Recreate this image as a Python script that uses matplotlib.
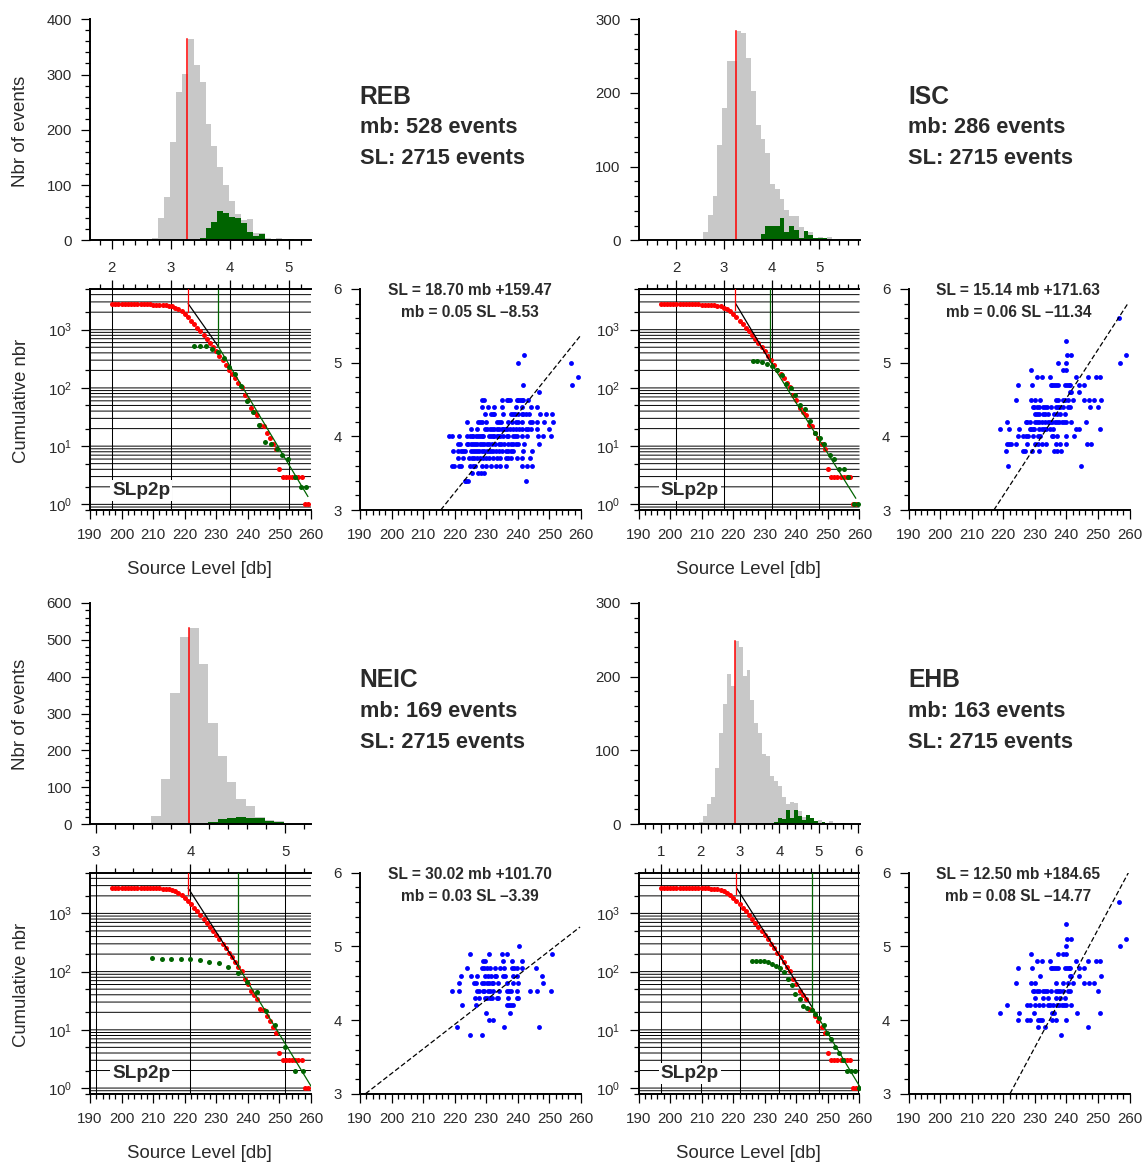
import matplotlib
matplotlib.use('Agg')
import matplotlib.pyplot as plt
from matplotlib.ticker import MultipleLocator, FixedLocator, NullFormatter

plt.rcParams['font.family'] = ['Liberation Sans', 'DejaVu Sans']
plt.rcParams['mathtext.default'] = 'regular'

W, H = 1143, 1162

names = ['REB', 'ISC', 'NEIC', 'EHB']
mb_events = [528, 286, 169, 163]
sl_events = 2715
slope_sl = [18.70, 15.14, 30.02, 12.50]
icept_sl = [159.47, 171.63, 101.70, 184.65]
slope_mb = ['0.05', '0.06', '0.03', '0.08']
icept_mb = ['8.53', '11.34', '3.39', '14.77']
hist_ymax = [400, 300, 600, 300]

# histogrammes mb, pas de 0.1
hist_start = [2.69, 2.566, 3.587, 1.966]
reb_gray = [5, 40, 78, 178, 268, 301, 364, 317, 287, 210, 170, 132, 100, 72, 48, 36, 38, 14, 14, 5, 3, 5, 2, 2, 1, 1]
reb_green = [0, 0, 0, 0, 0, 0, 0, 1, 4, 22, 33, 53, 49, 42, 40, 31, 15, 7, 11, 0, 2, 0, 0, 2, 0, 0]
isc_gray = [11, 34, 60, 129, 180, 243, 244, 284, 281, 247, 202, 156, 137, 118, 76, 69, 56, 41, 33, 33, 18, 11, 11, 3, 5, 3, 5, 1, 1, 1, 1, 1]
isc_green = [0, 0, 0, 0, 0, 0, 0, 0, 0, 0, 1, 0, 8, 19, 20, 19, 30, 11, 20, 14, 3, 12, 7, 3, 3, 3, 0, 0, 0, 0, 1, 0]
neic_gray = [22, 122, 355, 507, 531, 434, 274, 185, 114, 68, 50, 20, 11, 8]
neic_green = [0, 0, 0, 2, 0, 1, 6, 14, 17, 20, 17, 17, 8, 6]
ehb_gray = [3, 11, 27, 36, 76, 124, 163, 203, 187, 248, 240, 201, 209, 168, 137, 124, 95, 92, 65, 59, 52, 36, 27, 30, 29, 18, 10, 6, 4, 3, 6, 3, 2, 4, 1, 0, 1]
ehb_green = [0, 0, 0, 0, 0, 0, 0, 0, 0, 0, 0, 0, 0, 0, 0, 0, 0, 0, 0, 3, 8, 7, 19, 8, 19, 11, 6, 12, 8, 4, 1, 3, 0, 0, 0, 0, 1]
gray_counts = [reb_gray, isc_gray, neic_gray, ehb_gray]
green_counts = [reb_green, isc_green, neic_green, ehb_green]
mean_mb = [3.28, 3.26, 3.99, 2.88]
mean_top = [364, 284, 531, 249]

# courbe cumulee SL (la meme pour les 4 catalogues)
red_sl = list(range(197, 260))
red_n = [2715, 2715, 2715, 2715, 2715, 2715, 2715, 2715, 2715, 2715, 2715, 2715,
         2710, 2705, 2700, 2690, 2670, 2630, 2580, 2512, 2382, 2260, 2089, 1857,
         1626, 1427, 1234, 1082, 948, 810, 692, 591, 498, 425, 358, 302, 251, 206,
         176, 147, 122, 103, 75, 61, 46, 39, 34, 23, 22, 17, 14, 11, 9, 4, 3, 3, 3,
         3, 3, 3, 3, 1, 1]

# courbes cumulees mb converties en SL
reb_cum_sl = [223.05, 224.7, 226.6, 228.5, 230.4, 232.3, 234.0, 236.0, 237.9, 239.8,
              241.7, 243.6, 245.5, 247.3, 249.1, 250.9, 252.8, 254.8, 256.7, 258.5]
reb_cum_n = [528, 528, 518, 472, 408, 323, 229, 171, 107, 59, 39, 23, 12, 11, 9, 7, 6, 3, 2, 2]
isc_cum_sl = [226.2, 227.6, 229.2, 230.7, 232.2, 233.8, 235.3, 236.7, 238.2, 239.7, 241.3, 242.8,
              244.4, 245.8, 247.4, 248.9, 250.5, 252.0, 253.6, 255.0, 256.5, 258.1, 259.6]
isc_cum_n = [286, 286, 282, 261, 235, 201, 167, 119, 100, 75, 50, 43, 27, 17, 14, 11, 7, 6, 4, 4, 3, 1, 1]
neic_cum_sl = [209.6, 212.7, 215.7, 218.7, 221.8, 224.7, 227.8, 230.8, 233.7, 236.8,
               239.8, 242.8, 245.8, 248.7, 251.8, 254.8, 257.6]
neic_cum_n = [169, 167, 167, 165, 163, 156, 148, 139, 120, 94, 67, 45, 21, 12, 5, 2, 2]
ehb_cum_sl = [226.0, 227.2, 228.5, 229.8, 231.0, 232.3, 233.6, 234.7, 236.0, 237.4, 238.5, 239.7, 241.0, 242.2,
              243.5, 244.8, 246.0, 247.3, 248.6, 249.8, 251.0, 252.3, 253.6, 254.8, 256.1, 257.4, 258.5, 259.7]
ehb_cum_n = [152, 152, 152, 150, 147, 135, 127, 116, 100, 74, 58, 41, 34, 26, 24, 22, 19, 16, 12, 9, 7, 5, 4, 3, 2, 2, 2, 1]
cum_sl = [reb_cum_sl, isc_cum_sl, neic_cum_sl, ehb_cum_sl]
cum_n = [reb_cum_n, isc_cum_n, neic_cum_n, ehb_cum_n]

# droites de Gutenberg-Richter : SL et N aux extremites
fit_black_sl = [[221.1, 230.5], [220.8, 231.7], [221.1, 236.9], [221.1, 244.9]]
fit_black_n = [[2790, 528], [2790, 286], [2716, 124], [2716, 25]]
fit_green_sl = [[230.5, 259.0], [231.7, 258.8], [236.9, 260.0], [244.9, 260.0]]
fit_green_n = [[528, 1.37], [286, 1.28], [124, 1.08], [25, 1.08]]
red_stop_sl = [220.9, 220.6, 220.9, 221.0]
red_stop_n = [2035, 2140, 2140, 2140]

# nuages mb / SL, une ligne par niveau de mb
reb_mb = [5.1, 5.0, 4.8, 4.7, 4.6, 4.5, 4.4, 4.3, 4.2, 4.1, 4.0, 3.9, 3.8, 3.7, 3.6, 3.5, 3.4]
reb_sl = [
    [242.1],
    [240.0, 256.8],
    [259.2],
    [241.5, 257.2],
    [246.8],
    [228.8, 229.4, 235.0, 236.5, 237.0, 237.5, 239.6, 240.2, 240.7, 241.2, 241.7, 243.1],
    [228.8, 230.7, 232.3, 235.1, 239.4, 241.4, 244.1, 246.0],
    [229.7, 231.4, 232.0, 232.6, 235.3, 237.7, 238.4, 239.1, 239.9, 241.2, 241.7, 242.6, 243.4, 247.1, 248.9, 250.9],
    [224.0, 227.5, 228.0, 228.5, 229.8, 233.3, 233.9, 234.6, 237.0, 238.0, 239.4, 240.2, 241.4, 243.9, 244.4, 246.2, 248.3, 251.1],
    [225.2, 227.2, 229.5, 230.1, 231.2, 231.7, 232.4, 233.3, 234.1, 234.9, 235.4, 235.9, 236.5, 237.5, 238.6, 239.4, 240.5, 241.2, 242.6, 243.3, 244.2, 246.0, 250.0],
    [218.1, 219.0, 221.4, 223.8, 224.8, 225.4, 225.9, 226.7, 227.5, 228.0, 228.5, 229.1, 230.9, 231.4, 232.0, 232.6, 233.3, 233.8, 234.4, 235.4, 236.5, 237.0, 238.4, 239.0, 239.8, 241.4, 242.8, 246.5, 247.9, 250.6],
    [220.9, 221.7, 223.8, 224.3, 225.1, 225.7, 226.4, 227.2, 228.0, 228.8, 229.4, 230.1, 231.0, 231.9, 232.8, 234.0, 234.7, 235.6, 237.0, 237.7, 238.6, 239.4, 240.2, 242.0, 246.8],
    [219.4, 220.9, 221.9, 222.7, 223.4, 225.1, 225.7, 226.4, 227.2, 227.8, 228.5, 229.3, 230.1, 230.9, 231.5, 232.2, 233.1, 234.0, 235.1, 236.1, 237.0, 237.7, 238.4, 241.7, 244.4],
    [220.9, 222.7, 224.6, 225.4, 226.1, 227.0, 228.0, 229.1, 229.9, 230.9, 232.0, 233.3, 234.4, 236.3, 237.0, 237.7, 239.6, 241.4, 243.9],
    [219.0, 219.8, 221.5, 222.0, 224.8, 225.7, 226.4, 228.5, 229.9, 231.4, 233.1, 234.4, 236.1, 241.4, 242.8, 244.6],
    [225.5, 227.5, 228.3, 229.4],
    [223.1, 223.7, 224.2, 242.6],
]
isc_mb = [5.6, 5.3, 5.1, 5.0, 4.9, 4.8, 4.7, 4.6, 4.5, 4.4, 4.3, 4.2, 4.1, 4.0, 3.9, 3.8, 3.6]
isc_sl = [
    [256.8],
    [239.9],
    [240.2, 241.6, 259.0],
    [237.2, 239.9, 257.0],
    [228.8, 239.0, 239.8],
    [230.7, 232.2, 234.8, 243.0, 246.7, 249.4, 250.7],
    [224.7, 229.2, 235.0, 235.6, 236.1, 236.7, 237.4, 239.5, 240.2, 240.8, 241.3, 244.0, 245.6],
    [241.1, 241.6, 244.0],
    [224.0, 228.7, 230.0, 231.6, 236.6, 237.2, 238.8, 239.5, 240.6, 242.2, 245.6, 247.1, 248.8, 251.0],
    [229.3, 229.8, 230.6, 231.2, 232.5, 233.2, 234.0, 235.1, 236.6, 237.2, 238.0, 238.8, 240.4, 241.1, 247.6, 249.9],
    [230.1, 230.6, 231.2, 232.7, 233.2, 234.1, 236.1, 236.9, 238.0, 239.5],
    [221.3, 227.1, 227.6, 228.5, 230.1, 230.8, 231.4, 232.2, 233.2, 234.3, 234.8, 235.6, 236.4, 236.9, 237.6, 238.5, 239.2, 239.9, 241.4, 246.2],
    [219.0, 221.8, 225.1, 228.4, 228.8, 229.5, 229.8, 231.4, 232.2, 232.9, 233.7, 234.8, 235.9, 243.2, 244.1, 250.5],
    [224.7, 226.2, 227.1, 228.0, 229.3, 230.9, 231.6, 235.3, 235.9, 236.9, 239.9, 242.4],
    [221.1, 221.8, 222.5, 224.0, 227.6, 230.0, 231.1, 232.2, 233.4, 236.6, 238.0, 239.8, 246.5, 247.8],
    [220.9, 226.2, 226.9, 229.0, 231.2, 236.1, 236.9, 238.2],
    [221.6, 244.5],
]
neic_mb = [5.0, 4.9, 4.8, 4.7, 4.6, 4.5, 4.4, 4.3, 4.2, 4.1, 4.0, 3.9, 3.8]
neic_sl = [
    [240.5],
    [224.7, 230.8, 234.9, 236.5, 250.8],
    [229.1, 229.7, 235.2, 238.2, 241.4],
    [224.0, 228.5, 229.3, 230.3, 231.1, 232.8, 234.2, 235.7, 238.0, 238.7, 239.6, 241.2, 245.6],
    [221.9, 225.2, 227.2, 229.7, 230.7, 231.4, 232.8, 233.1, 235.4, 235.9, 238.4, 239.6, 247.6],
    [221.4, 226.1, 226.7, 228.5, 229.3, 230.1, 230.9, 231.8, 232.2, 233.8, 236.5, 238.6, 240.2, 248.1],
    [219.0, 221.2, 227.2, 227.8, 228.9, 229.3, 230.7, 231.2, 232.0, 234.1, 236.5, 237.3, 237.8, 239.6, 243.9, 246.2, 250.6],
    [226.4, 227.8, 229.6, 230.1, 231.2, 231.7, 233.3, 233.8, 237.0, 239.6, 240.2],
    [222.4, 226.9, 236.5, 237.2, 237.8, 238.4],
    [230.0, 237.5],
    [230.9, 232.1],
    [220.8, 235.5, 246.6],
    [224.8, 228.5],
]
ehb_mb = [5.6, 5.3, 5.1, 5.0, 4.9, 4.8, 4.7, 4.6, 4.5, 4.4, 4.3, 4.2, 4.1, 4.0, 3.9, 3.8]
ehb_sl = [
    [256.8],
    [239.9],
    [240.2, 241.6, 259.0],
    [239.9, 257.0],
    [228.8, 237.2, 239.0, 239.8],
    [230.7, 232.2, 234.8, 243.0, 246.7, 249.4, 250.7],
    [224.7, 229.2, 235.0, 235.6, 236.1, 236.7, 237.4, 239.5, 240.2, 240.8, 241.3, 244.0, 245.6],
    [231.6, 241.1, 241.6, 244.0, 251.0],
    [224.0, 228.7, 230.0, 236.6, 238.8, 240.6, 242.2, 245.6, 247.1, 248.8],
    [229.3, 229.8, 230.6, 231.2, 232.5, 233.2, 234.0, 235.1, 236.6, 237.2, 238.0, 238.8, 240.4, 241.1, 249.9],
    [230.1, 232.7, 234.1, 236.6, 238.0, 239.5],
    [221.3, 227.4, 228.5, 230.1, 231.4, 232.7, 234.1, 234.8, 235.9, 236.9, 237.6, 238.5, 239.2, 239.9, 241.4],
    [219.0, 225.1, 229.8, 235.4, 236.1, 243.4, 250.5],
    [224.7, 227.6, 228.4, 230.9, 231.6, 232.2, 235.5, 236.6, 239.9],
    [230.9, 233.2, 246.7],
    [238.2],
]
scat_mb = [reb_mb, isc_mb, neic_mb, ehb_mb]
scat_sl = [reb_sl, isc_sl, neic_sl, ehb_sl]

hist_x_ticks = [[2, 3, 4, 5], [2, 3, 4, 5], [3, 4, 5], [1, 2, 3, 4, 5, 6]]
sl_ticks = [190, 200, 210, 220, 230, 240, 250, 260]
cum_y_major = [1, 10, 100, 1000]
cum_y_labels = ['$10^0$', '$10^1$', '$10^2$', '$10^3$']
cum_y_small = [0.8, 2, 5, 20, 50, 200, 500, 2000, 5000]
cum_grid = [0.8, 0.9, 1, 2, 3, 4, 5, 6, 7, 8, 9, 10, 20, 30, 40, 50, 60, 70, 80, 90, 100,
            200, 300, 400, 500, 600, 700, 800, 900, 1000, 2000, 3000, 4000, 5000]

GRAY = '#c8c8c8'
GREEN = '#006400'
TXT = '#2a2a2a'
col_x = [0, 548.5]
row_y = [0, 583.7]


def make_axes(fig, left, top, width=221.0, height=221.0):
    return fig.add_axes([left / W, 1 - (top + height) / H, width / W, height / H])


def style(ax, sides=('left', 'bottom')):
    for s in ax.spines:
        ax.spines[s].set_visible(s in sides)
        ax.spines[s].set_linewidth(1.4)
    ax.tick_params(which='major', length=6.5, width=0.9, labelsize=10.8, pad=6.5, labelcolor=TXT)
    ax.tick_params(which='minor', length=3.6, width=0.9)


fig = plt.figure(figsize=(W / 100, H / 100), dpi=100, facecolor='white')

for i in range(4):
    ox = col_x[i % 2]
    oy = row_y[i // 2]
    a = slope_sl[i]
    b = icept_sl[i]
    mb_lim = ((190 - b) / a, (260 - b) / a)

    # histogramme
    ax = make_axes(fig, 90 + ox, 19.3 + oy)
    style(ax)
    edges = [hist_start[i] + 0.1 * k for k in range(len(gray_counts[i]))]
    ax.bar(edges, gray_counts[i], width=0.1, align='edge', color=GRAY, linewidth=0)
    ax.bar(edges, green_counts[i], width=0.1, align='edge', color=GREEN, linewidth=0)
    ax.plot([mean_mb[i], mean_mb[i]], [0, mean_top[i]], color='red', lw=1.1)
    ax.set_xlim(mb_lim)
    ax.set_ylim(0, hist_ymax[i])
    ax.xaxis.set_major_locator(FixedLocator(hist_x_ticks[i]))
    ax.xaxis.set_minor_locator(MultipleLocator(0.2))
    ax.yaxis.set_major_locator(MultipleLocator(100))
    ax.yaxis.set_minor_locator(MultipleLocator(20))
    ax.tick_params(axis='x', which='major', pad=8.5)
    if i % 2 == 0:
        fig.text((20.5 + ox) / W, 1 - (131 + oy) / H, 'Nbr of events', rotation=90, fontsize=13.5,
                 color=TXT, ha='center', va='center')

    # textes a droite
    fig.text((359.5 + ox) / W, 1 - (96.5 + oy) / H, names[i], fontsize=17.7, fontweight='bold',
             color=TXT, ha='left', va='center')
    fig.text((360 + ox) / W, 1 - (127.5 + oy) / H, 'mb: %d events' % mb_events[i], fontsize=15.7,
             fontweight='bold', color=TXT, ha='left', va='center')
    fig.text((360 + ox) / W, 1 - (158.5 + oy) / H, 'SL: %d events' % sl_events, fontsize=15.7,
             fontweight='bold', color=TXT, ha='left', va='center')

    # frequence cumulee
    ax = make_axes(fig, 90 + ox, 289 + oy)
    style(ax, ('left', 'bottom', 'top'))
    ax.set_yscale('log')
    ax.set_xlim(190, 260)
    ax.set_ylim(0.8, 5000)
    grid = ax.hlines(cum_grid, 190, 260, color='black', lw=0.7, zorder=1)
    grid.set_snap(False)
    for m in hist_x_ticks[i]:
        ax.axvline(a * m + b, color='black', lw=0.75, zorder=1)
    ax.plot(red_sl, red_n, 'o', color='red', ms=3.6, mew=0, zorder=3)
    ax.plot(cum_sl[i], cum_n[i], 'o', color=GREEN, ms=3.6, mew=0, zorder=4)
    ax.plot(fit_black_sl[i], fit_black_n[i], color='black', lw=0.9, zorder=3)
    ax.plot(fit_green_sl[i], fit_green_n[i], color=GREEN, lw=0.9, zorder=5)
    ax.plot([red_stop_sl[i], red_stop_sl[i]], [red_stop_n[i], 5000], color='red', lw=0.9, zorder=4)
    ax.plot([fit_green_sl[i][0], fit_green_sl[i][0]], [fit_green_n[i][0], 5000], color=GREEN, lw=0.9, zorder=5)
    ax.xaxis.set_major_locator(FixedLocator(sl_ticks))
    ax.xaxis.set_minor_locator(MultipleLocator(2))
    ax.yaxis.set_major_locator(FixedLocator(cum_y_major))
    ax.yaxis.set_major_formatter(plt.FixedFormatter(cum_y_labels))
    ax.yaxis.set_minor_locator(FixedLocator(cum_y_small))
    ax.yaxis.set_minor_formatter(NullFormatter())
    ax.text(0.10, 0.09, 'SLp2p', transform=ax.transAxes, fontsize=13.7, fontweight='bold', color=TXT,
            ha='left', va='center', zorder=6,
            bbox=dict(facecolor='white', edgecolor='none', pad=1.5))
    top = ax.twiny()
    for s in top.spines:
        top.spines[s].set_visible(False)
    top.set_xlim(mb_lim)
    top.xaxis.set_major_locator(FixedLocator(hist_x_ticks[i]))
    top.xaxis.set_minor_locator(MultipleLocator(0.2))
    top.tick_params(which='major', length=6.5, width=0.9, labeltop=False)
    top.tick_params(which='minor', length=3.6, width=0.9)
    fig.text((199.5 + ox) / W, 1 - (570 + oy) / H, 'Source Level [db]', fontsize=13.4, color=TXT,
             ha='center', va='center')
    if i % 2 == 0:
        fig.text((22 + ox) / W, 1 - (401 + oy) / H, 'Cumulative nbr', rotation=90, fontsize=13.3,
                 color=TXT, ha='center', va='center')

    # nuage mb / SL
    ax = make_axes(fig, 360 + ox, 289 + oy)
    style(ax)
    for m, row in zip(scat_mb[i], scat_sl[i]):
        ax.plot(row, [m] * len(row), 'o', color='#0000ff', ms=3.5, mew=0, clip_on=False, zorder=3)
    ax.plot([a * 3 + b, 259.7], [3, (259.7 - b) / a], color='black', lw=0.9, ls=(0, (4, 2)), zorder=4)
    ax.set_xlim(190, 260)
    ax.set_ylim(3, 6)
    ax.xaxis.set_major_locator(FixedLocator(sl_ticks))
    ax.xaxis.set_minor_locator(MultipleLocator(2))
    ax.yaxis.set_major_locator(MultipleLocator(1))
    ax.yaxis.set_minor_locator(MultipleLocator(0.2))
    ax.text(0.497, 0.992, 'SL = %.2f mb +%.2f' % (a, b), transform=ax.transAxes, fontsize=11.2,
            fontweight='bold', color=TXT, ha='center', va='center')
    ax.text(0.497, 0.893, 'mb = %s SL \u2013%s' % (slope_mb[i], icept_mb[i]), transform=ax.transAxes,
            fontsize=11.2, fontweight='bold', color=TXT, ha='center', va='center')

fig.savefig('out.png', dpi=100)
